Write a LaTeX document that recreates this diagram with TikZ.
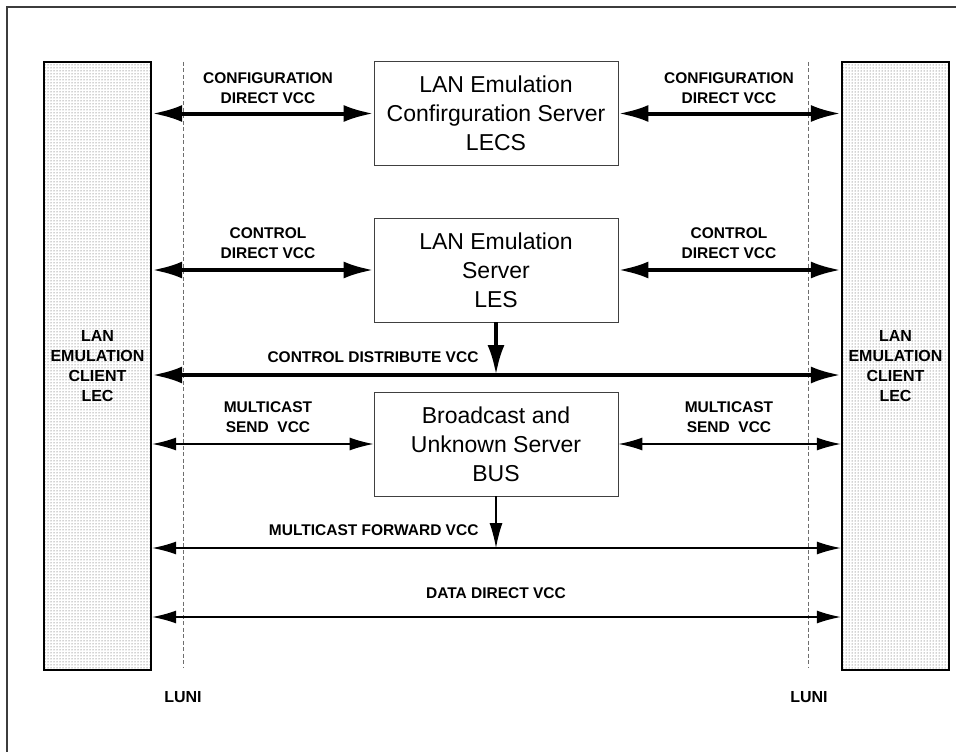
\documentclass[tikz,border=0pt]{standalone}
\usepackage{fontspec}
\setmainfont{Liberation Sans}
\usepackage{tikz}
\usetikzlibrary{arrows.meta,positioning,calc,patterns}
\definecolor{FrameGray}{RGB}{60,60,60}
\definecolor{LuniGray}{RGB}{110,110,110}

\begin{document}
\begin{tikzpicture}[x=1pt, y=-1pt,
    lecbox/.style={draw, line width=2.4pt, pattern=dots, pattern color=black!75, minimum width=107pt, minimum height=608pt, inner sep=0pt, align=center, font=\fontsize{16}{20}\selectfont\bfseries},
    srvbox/.style={draw, line width=0.9pt, draw=black!75, fill=white, minimum width=244pt, minimum height=104pt, inner sep=0pt, align=center, font=\fontsize{23}{29}\selectfont},
    vcclbl/.style={align=center, font=\fontsize{15.5}{20}\selectfont\bfseries},
    thickarr/.style={line width=4pt, {Latex[length=30pt,width=17pt]}-{Latex[length=30pt,width=17pt]}},
    thinarr/.style={line width=1.3pt, {Latex[length=24pt,width=13pt]}-{Latex[length=24pt,width=13pt]}},
    luni/.style={dashed, dash pattern=on 4pt off 2.5pt, LuniGray, line width=0.8pt}]
  \useasboundingbox (0,0) rectangle (956,752);
  \draw[FrameGray, line width=1.8pt] (7,752) |- (956,7);

  % clients and servers
  \node[lecbox] (lecL) at (97.5,366) {LAN\\EMULATION\\CLIENT\\LEC};
  \node[lecbox] (lecR) at (895.5,366) {LAN\\EMULATION\\CLIENT\\LEC};
  \node[srvbox] (lecs) at (496,113.5) {LAN Emulation\\Confirguration Server\\LECS};
  \node[srvbox] (les) at (496,270) {LAN Emulation\\Server\\LES};
  \node[srvbox] (bus) at (496,444) {Broadcast and\\Unknown Server\\BUS};

  % LUNI boundaries
  \coordinate (luniLtop) at (183,62); \coordinate (luniLbot) at (183,667);
  \coordinate (luniRtop) at (808,62); \coordinate (luniRbot) at (808,667);
  \draw[luni] (luniLtop) -- (luniLbot);
  \draw[luni] (luniRtop) -- (luniRbot);
  \node[vcclbl, font=\fontsize{16}{18}\selectfont\bfseries] (luniL) at (183,697) {LUNI};
  \node[vcclbl, font=\fontsize{16}{18}\selectfont\bfseries] (luniR) at (809,697) {LUNI};

  % VCCs
  \draw[thickarr] (lecs.west -| lecL.east) -- (lecs.west);
  \draw[thickarr] (lecs.east) -- (lecs.east -| lecR.west);
  \node[vcclbl] (cfgL) at (268,88.5) {CONFIGURATION\\DIRECT VCC};
  \node[vcclbl] (cfgR) at (729,88.5) {CONFIGURATION\\DIRECT VCC};

  \draw[thickarr] (les.west -| lecL.east) -- (les.west);
  \draw[thickarr] (les.east) -- (les.east -| lecR.west);
  \node[vcclbl] (ctlL) at (268,243) {CONTROL\\DIRECT VCC};
  \node[vcclbl] (ctlR) at (729,243) {CONTROL\\DIRECT VCC};

  \coordinate (dist) at (496,375);
  \draw[thickarr] (dist -| lecL.east) -- (dist -| lecR.west);
  \draw[line width=4pt, -{Latex[length=30pt,width=17pt]}] (les.south) -- (dist);
  \node[vcclbl, anchor=east] (distlbl) at (482,357) {CONTROL DISTRIBUTE VCC};

  \draw[thinarr] (bus.west -| lecL.east) -- (bus.west);
  \draw[thinarr] (bus.east) -- (bus.east -| lecR.west);
  \node[vcclbl] (mcsL) at (268,417.5) {MULTICAST\\SEND~~VCC};
  \node[vcclbl] (mcsR) at (729,417.5) {MULTICAST\\SEND~~VCC};

  \coordinate (fwd) at (496,548);
  \draw[thinarr] (fwd -| lecL.east) -- (fwd -| lecR.west);
  \draw[line width=1.3pt, -{Latex[length=25pt,width=13pt]}] (bus.south) -- (fwd);
  \node[vcclbl, anchor=east] (fwdlbl) at (482,530) {MULTICAST FORWARD VCC};

  \coordinate (data) at (496,617);
  \draw[thinarr] (data -| lecL.east) -- (data -| lecR.west);
  \node[vcclbl] (datalbl) at (496,593) {DATA DIRECT VCC};
\end{tikzpicture}
\end{document}
